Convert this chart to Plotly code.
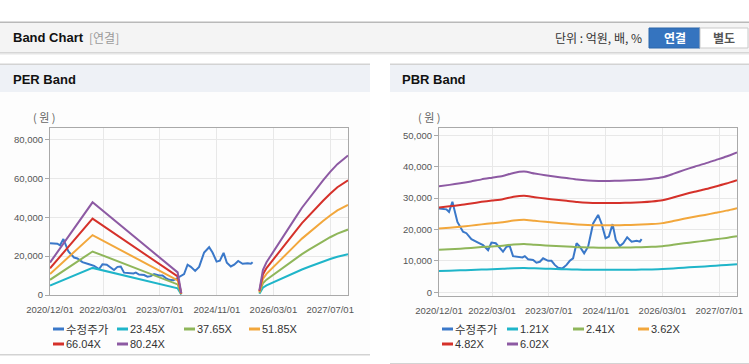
import plotly.graph_objects as go

W, H = 749, 364

# ---------------- data ----------------
x_tick_vals = ["2020-12-01", "2022-03-01", "2023-07-01", "2024-11-01", "2026-03-01", "2027-07-01"]
x_tick_text = ["2020/12/01", "2022/03/01", "2023/07/01", "2024/11/01", "2026/03/01", "2027/07/01"]

price_dates = ["2020-12-01", "2021-02-02", "2021-02-25", "2021-03-26", "2021-05-08", "2021-06-25",
               "2021-07-24", "2021-09-05", "2021-11-01", "2021-12-14", "2022-01-26", "2022-02-24",
               "2022-04-02", "2022-05-06", "2022-06-03", "2022-07-03", "2022-07-31", "2022-08-28",
               "2022-10-10", "2022-11-17", "2022-12-07", "2023-01-04", "2023-02-16", "2023-03-17",
               "2023-04-15", "2023-05-13", "2023-06-25", "2023-07-24", "2023-08-21", "2023-09-19",
               "2023-10-26", "2023-11-30", "2023-12-28", "2024-01-25", "2024-02-24", "2024-03-23",
               "2024-04-29", "2024-06-02", "2024-07-15", "2024-08-27", "2024-09-25", "2024-10-30",
               "2024-11-27", "2024-12-29", "2025-01-26", "2025-03-01", "2025-03-30", "2025-05-03",
               "2025-06-10", "2025-07-23", "2025-08-20", "2025-09-04"]
price_vals = [26700, 26400, 25600, 28800, 22400, 19300, 18800, 16900, 15800, 15000, 13400, 15800,
              15600, 14000, 12900, 14500, 14700, 11500, 11300, 11100, 11500, 10500, 10300, 9400,
              9700, 10800, 10000, 10000, 8700, 7800, 7600, 8700, 10000, 10800, 15600, 14500,
              12400, 14500, 21900, 24600, 21900, 17200, 17700, 21700, 16600, 14700, 15600, 17500,
              16100, 16400, 16100, 16900]

per_dates = ["2020-12-01", "2021-12-01", "2023-12-01", "2024-01-01", "2024-12-01", "2025-11-01",
             "2025-12-01", "2026-01-01", "2026-03-01", "2026-05-01", "2026-07-01", "2026-09-01",
             "2026-11-01", "2027-01-01", "2027-03-01", "2027-05-01", "2027-07-01", "2027-09-01",
             "2027-12-01"]
per_2345 = [4880, 13950, 3400, 280, None, 700, 3750, 4930, 6570, 8210, 9850, 11490, 13130, 14540,
            15950, 17240, 18530, 19700, 20990]
per_3765 = [7830, 22400, 5460, 450, None, 1130, 6020, 7910, 10540, 13180, 15810, 18450, 21080, 23340,
            25600, 27670, 29740, 31630, 33700]
per_5185 = [10790, 30850, 7520, 620, None, 1560, 8300, 10890, 14520, 18150, 21780, 25410, 29040, 32150,
            35260, 38110, 40960, 43550, 46410]
per_6604 = [13740, 39290, 9580, 790, None, 1980, 10570, 13870, 18490, 23110, 27740, 32360, 36980, 40950,
            44910, 48540, 52170, 55470, 59110]
per_8024 = [16690, 47740, 11640, 960, None, 2410, 12840, 16850, 22470, 28080, 33700, 39320, 44930, 49750,
            54560, 58980, 63390, 67400, 71820]

pbr_dates = ["2020-12-01", "2021-03-01", "2021-06-01", "2021-09-01", "2021-12-01", "2022-03-01",
             "2022-06-01", "2022-09-01", "2022-12-01", "2023-03-01", "2023-06-01", "2023-09-01",
             "2023-12-01", "2024-03-01", "2024-06-01", "2024-09-01", "2024-12-01", "2025-03-01",
             "2025-06-01", "2025-09-01", "2025-12-01", "2026-03-01", "2026-06-01", "2026-09-01",
             "2026-12-01", "2027-03-01", "2027-06-01", "2027-09-01", "2027-12-01"]
pbr_121 = [6780, 6870, 6970, 7090, 7220, 7330, 7440, 7640, 7720, 7600, 7490, 7390, 7310, 7210, 7150,
           7130, 7130, 7140, 7160, 7200, 7260, 7360, 7570, 7820, 8030, 8230, 8460, 8690, 8950]
pbr_241 = [13500, 13690, 13880, 14120, 14390, 14600, 14820, 15210, 15380, 15130, 14920, 14720, 14560,
           14360, 14240, 14190, 14190, 14220, 14270, 14340, 14460, 14650, 15090, 15570, 16000, 16390,
           16850, 17300, 17830]
pbr_362 = [20270, 20560, 20850, 21210, 21610, 21940, 22260, 22840, 23100, 22730, 22410, 22120, 21860,
           21580, 21390, 21320, 21320, 21360, 21430, 21540, 21720, 22010, 22660, 23390, 24040, 24620,
           25300, 25990, 26790]
pbr_482 = [26990, 27380, 27760, 28250, 28780, 29210, 29640, 30410, 30750, 30270, 29840, 29450, 29110,
           28730, 28490, 28390, 28390, 28440, 28530, 28680, 28920, 29310, 30170, 31140, 32000, 32780,
           33690, 34610, 35670]
pbr_602 = [33710, 34190, 34680, 35280, 35940, 36480, 37020, 37990, 38410, 37810, 37260, 36780, 36360,
           35880, 35580, 35460, 35460, 35520, 35640, 35820, 36120, 36600, 37690, 38890, 39970, 40940,
           42080, 43220, 44550]

per_names = ["수정주가", "23.45X", "37.65X", "51.85X", "66.04X", "80.24X"]
pbr_names = ["수정주가", "1.21X", "2.41X", "3.62X", "4.82X", "6.02X"]

# ---------------- styles ----------------
COLORS = ["#3a78c9", "#1fb5c9", "#8fb65a", "#f2a73c", "#d5312a", "#8d5aa3"]
FONT = "Liberation Sans, Arial, Noto Sans CJK KR, sans-serif"
KFONT = "Noto Sans CJK KR, Liberation Sans, sans-serif"


def X(p):
    return p / W


def Y(p):
    return 1 - p / H


fig = go.Figure()

# PER traces
per_series = [per_2345, per_3765, per_5185, per_6604, per_8024]
fig.add_trace(go.Scatter(x=price_dates, y=price_vals, mode="lines", name=per_names[0],
                         line=dict(color=COLORS[0], width=2), xaxis="x", yaxis="y"))
for i, s in enumerate(per_series):
    fig.add_trace(go.Scatter(x=per_dates, y=s, mode="lines", name=per_names[i + 1],
                             line=dict(color=COLORS[i + 1], width=2), connectgaps=False,
                             xaxis="x", yaxis="y"))

# PBR traces
pbr_series = [pbr_121, pbr_241, pbr_362, pbr_482, pbr_602]
fig.add_trace(go.Scatter(x=price_dates, y=price_vals, mode="lines", name=pbr_names[0],
                         line=dict(color=COLORS[0], width=2), xaxis="x2", yaxis="y2"))
for i, s in enumerate(pbr_series):
    fig.add_trace(go.Scatter(x=pbr_dates, y=s, mode="lines", name=pbr_names[i + 1],
                             line=dict(color=COLORS[i + 1], width=2, shape="spline", smoothing=0.6),
                             xaxis="x2", yaxis="y2"))

axis_common = dict(showline=True, linecolor="#a9a9a9", linewidth=1, mirror=True,
                   gridcolor="#e8e8e8", gridwidth=1, zeroline=False, automargin=False,
                   tickfont=dict(family=FONT, size=9.5, color="#555555"))

fig.update_layout(
    width=W, height=H, margin=dict(l=0, r=0, t=0, b=0, autoexpand=False),
    paper_bgcolor="#ffffff", plot_bgcolor="rgba(0,0,0,0)",
    showlegend=False, font=dict(family=FONT, color="#333333"),
    xaxis=dict(domain=[X(50), X(348)], anchor="y", type="date",
               range=["2020-12-01", "2027-12-01"], tickvals=x_tick_vals, ticktext=x_tick_text,
               ticks="outside", ticklen=6, tickcolor="rgba(0,0,0,0)", **axis_common),
    yaxis=dict(domain=[Y(295), Y(128)], anchor="x", range=[0, 86000],
               tickvals=[0, 20000, 40000, 60000, 80000], tickformat=",d",
               ticks="outside", ticklen=4, tickcolor="#a9a9a9", **axis_common),
    xaxis2=dict(domain=[X(439), X(737)], anchor="y2", type="date",
                range=["2020-12-01", "2027-12-01"], tickvals=x_tick_vals, ticktext=x_tick_text,
                ticks="outside", ticklen=6, tickcolor="rgba(0,0,0,0)", **axis_common),
    yaxis2=dict(domain=[Y(296), Y(128)], anchor="x2", range=[-1200, 52300],
                tickvals=[0, 10000, 20000, 30000, 40000, 50000], tickformat=",d",
                ticks="outside", ticklen=4, tickcolor="#a9a9a9", **axis_common),
)

shapes = []


def rect(x0, y0, x1, y1, fill, line=None, layer="below"):
    shapes.append(dict(type="rect", xref="paper", yref="paper", x0=X(x0), x1=X(x1), y0=Y(y1), y1=Y(y0),
                       fillcolor=fill, line=dict(width=0 if line is None else 1,
                                                 color=line or "rgba(0,0,0,0)"),
                       layer=layer))


# top bar
rect(0, 21.5, W, 23, "#b9b9b9")
rect(0, 23, W, 52, "#f4f4f4")
rect(0, 52, W, 53, "#d6d6d6")
rect(0, 53, W, 54, "#e6e6e6")
rect(0, 54, W, 55, "#f2f2f2")
# buttons
rect(649, 28, 700, 48, "#3574bf", "#2d66aa", layer="above")
rect(700, 28, 748, 48, "#ffffff", "#c9c9c9", layer="above")

# panels
for (px0, px1, pbot) in [(0, 370, 354), (390, W, 363)]:
    rect(px0, 63.5, px1, 65, "#d3d3d3")
    rect(px0, 65, px1, 92, "#eef1f6")
    rect(px0, 92, px1, pbot, "#fdfdfd")
    rect(px0, pbot, px1, pbot + 1.5, "#d3d3d3")

annotations = []


def text(x, y, s, size=12, color="#333333", anchor="left", bold=False, family=FONT):
    annotations.append(dict(xref="paper", yref="paper", x=X(x), y=Y(y), text=("<b>%s</b>" % s) if bold else s,
                            showarrow=False, xanchor=anchor, yanchor="middle",
                            font=dict(family=family, size=size, color=color)))


text(11, 38, "Band Chart", size=13, color="#111111", bold=True)
text(87, 38, "[연결]", size=12, color="#9a9a9a", family=KFONT)
text(644, 38, "단위 : 억원, 배, %", size=12, color="#333333", anchor="right", family=KFONT)
text(674.5, 38, "연결", size=12, color="#ffffff", anchor="center", bold=True, family=KFONT)
text(724, 38, "별도", size=12, color="#555555", anchor="center", bold=True, family=KFONT)

text(11, 79, "PER Band", size=13, color="#111111", bold=True)
text(400, 79, "PBR Band", size=13, color="#111111", bold=True)
text(44, 117, "( 원 )", size=11, color="#666666", anchor="center", family=KFONT)
text(429, 117, "( 원 )", size=11, color="#666666", anchor="center", family=KFONT)

# legends (manual)
per_leg = [(53, 329), (117, 329), (184, 329), (249, 329), (53, 344), (117, 344)]
pbr_leg = [(442, 329), (507, 329), (573, 329), (638, 329), (442, 344), (507, 344)]
for leg, names in [(per_leg, per_names), (pbr_leg, pbr_names)]:
    for i, (lx, ly) in enumerate(leg):
        shapes.append(dict(type="line", xref="paper", yref="paper", x0=X(lx), x1=X(lx + 11),
                           y0=Y(ly), y1=Y(ly), line=dict(color=COLORS[i], width=3), layer="above"))
        text(lx + 11, ly, names[i], size=11.5 if i == 0 else 11, color="#333333",
             family=KFONT if i == 0 else FONT)

fig.update_layout(shapes=shapes, annotations=annotations)

fig.write_html("out.html", config={"displayModeBar": False},
               post_script="document.body.style.margin='0';document.body.style.overflow='hidden';")
